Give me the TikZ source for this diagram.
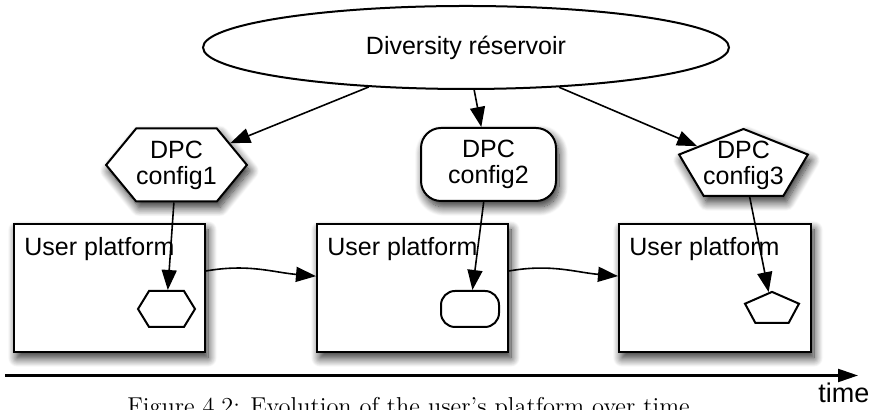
\documentclass[tikz,border=0pt]{standalone}
\usepackage{fontspec}
\newfontfamily\helv{Liberation Sans}
\usetikzlibrary{
    shapes.geometric,
    shapes.symbols,
    arrows.meta,
    shadows.blur
}
\tikzset{
    dshadow/.style={blur shadow={shadow xshift=1.5pt, shadow yshift=-3pt,
        shadow blur radius=4.5pt, shadow blur steps=14, shadow opacity=85}},
    shp/.style={draw, line width=1pt, fill=white, inner sep=0pt},
    lbl/.style={font=\helv\fontsize{12.5}{13}\selectfont, align=center},
    conn/.style={line width=0.8pt, -{Triangle[length=10pt, width=7.5pt]}},
    hexa/.style={shp, signal, signal to=west and east},
    penta/.style={shp, regular polygon, regular polygon sides=5, transform shape}
}
\begin{document}
\begin{tikzpicture}[x=0.5pt, y=0.5pt]
    \useasboundingbox (0, 0) rectangle (873, 410);
    \node[shp, ellipse, minimum width=263pt, minimum height=41.5pt, lbl] (res) at (466, 362.5) {Diversity réservoir};
    \node[hexa, dshadow, signal pointer angle=101, minimum width=67.5pt, minimum height=36.5pt, lbl] (cfgA) at (176.5, 245) {DPC\\config1};
    \node[shp, dshadow, rounded corners=10pt, minimum width=67.5pt, minimum height=36.5pt, lbl] (cfgB) at (488.5, 245.5) {DPC\\config2};
    \node[penta, dshadow, minimum size=37pt, xscale=1.83] (cfgC) at (743.5, 244) {};
    \node[lbl] (cfgCtxt) at (743.5, 245) {DPC\\config3};
    \node[shp, dshadow, minimum width=95.5pt, minimum height=64pt] (boxA) at (109.5, 122) {};
    \node[shp, dshadow, minimum width=95.5pt, minimum height=64pt] (boxB) at (412.5, 122) {};
    \node[shp, dshadow, minimum width=96pt, minimum height=64pt] (boxC) at (715, 122) {};
    \node[lbl, anchor=base west, inner sep=0pt] (lblA) at (24, 154) {User platform};
    \node[lbl, anchor=base west, inner sep=0pt] (lblB) at (327, 154) {User platform};
    \node[lbl, anchor=base west, inner sep=0pt] (lblC) at (629, 154) {User platform};
    \node[hexa, signal pointer angle=117, minimum width=28.5pt, minimum height=18pt] (hexA) at (166.5, 101) {};
    \node[shp, rounded corners=7pt, minimum width=29pt, minimum height=18pt] (rrB) at (470, 101) {};
    \node[penta, minimum size=17.1pt, xscale=1.66] (pentC) at (772, 101) {};
    \draw[conn] (res) -- (cfgA);
    \draw[conn] (res) -- (cfgB);
    \draw[conn] (res) -- (cfgC);
    \draw[conn] (cfgA) -- (hexA);
    \draw[conn] (cfgB) -- (rrB);
    \draw[conn] (cfgC) -- (pentC);
    \draw[conn] (boxA.10) to[out=10, in=175] (boxB.173);
    \draw[conn] (boxB.10) to[out=10, in=175] (boxC.173);
    \coordinate (t0) at (5, 34.5);
    \coordinate (t1) at (858, 34.5);
    \draw[line width=1.1pt, -{Triangle[length=10pt, width=6.5pt]}] (t0) -- (t1);
    \node[font=\helv\fontsize{13.5}{14}\selectfont, anchor=base west, inner sep=0pt] (tlbl) at (818, 7) {time};
    \node[font=\fontsize{12.2}{14}\selectfont, anchor=base west, inner sep=0pt] (cap) at (127, -5) {Figure 4.2: Evolution of the user's platform over time.};
\end{tikzpicture}
\end{document}
